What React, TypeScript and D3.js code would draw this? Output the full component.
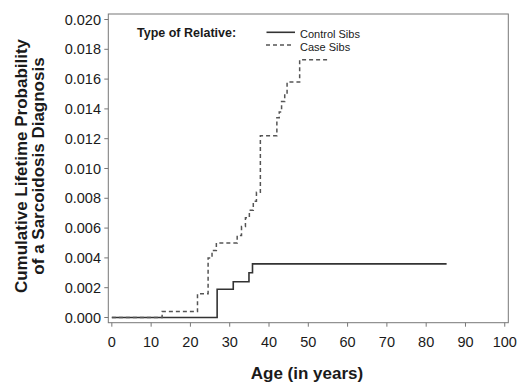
import React from "react";
import * as d3 from "d3";

const xTicks = [0, 10, 20, 30, 40, 50, 60, 70, 80, 90, 100];
const yTicks = [0, 0.002, 0.004, 0.006, 0.008, 0.01, 0.012, 0.014, 0.016, 0.018, 0.02];

const controlAges = [0, 26.8, 30.9, 34.9, 35.8, 85.2];
const controlProbs = [0, 0.0019, 0.0024, 0.003, 0.0036, 0.0036];

const caseAges = [0, 12.8, 21.8, 24.5, 25.5, 26.6, 31.9, 33, 34, 35, 36, 36.8, 37.8, 42.0, 42.6, 43.2, 44.0, 44.6, 47.8, 55.5];
const caseProbs = [0, 0.0004, 0.0016, 0.004, 0.0045, 0.005, 0.0055, 0.0061, 0.0067, 0.0072, 0.0078, 0.0084, 0.0122, 0.0134, 0.0138, 0.0145, 0.015, 0.0158, 0.0173, 0.0173];

const FONT = "'Liberation Sans', Arial, Helvetica, sans-serif";

export default function App() {
  const left = 108.3, right = 508.3, top = 14, bottom = 322.7;
  const x = d3.scaleLinear().domain([-0.9, 100.9]).range([left, right]);
  const y = d3.scaleLinear().domain([-0.00035, 0.02037]).range([bottom, top]);

  const line = d3
    .line<[number, number]>()
    .x((d) => x(d[0]))
    .y((d) => y(d[1]))
    .curve(d3.curveStepAfter);

  const control = controlAges.map((a, i) => [a, controlProbs[i]] as [number, number]);
  const cases = caseAges.map((a, i) => [a, caseProbs[i]] as [number, number]);

  return (
    <svg
      width={518}
      height={383}
      style={{ position: "absolute", left: 0, top: 0, background: "#fff" }}
      fontFamily={FONT}
    >
      <rect x={left} y={top} width={right - left} height={bottom - top} fill="none" stroke="#777" strokeWidth={1} />
      {yTicks.map((t) => (
        <g key={"y" + t}>
          <line x1={left - 4} x2={left} y1={y(t)} y2={y(t)} stroke="#777" />
          <text x={101} y={y(t)} dy="0.35em" textAnchor="end" fontSize={14.5} fill="#1a1a1a">
            {t.toFixed(3)}
          </text>
        </g>
      ))}
      {xTicks.map((t) => (
        <g key={"x" + t}>
          <line x1={x(t)} x2={x(t)} y1={bottom} y2={bottom + 4} stroke="#777" />
          <text x={x(t)} y={342} dy="0.35em" textAnchor="middle" fontSize={14.5} fill="#1a1a1a">
            {t}
          </text>
        </g>
      ))}
      <text x={307} y={373} dy="0.35em" textAnchor="middle" fontSize={17} fontWeight="bold" fill="#1a1a1a">
        Age (in years)
      </text>
      <g transform="translate(21,166) rotate(-90)">
        <text x={0} y={0} dy="0.35em" textAnchor="middle" fontSize={17} fontWeight="bold" fill="#1a1a1a">
          Cumulative Lifetime Probability
        </text>
        <text x={0} y={17.5} dy="0.35em" textAnchor="middle" fontSize={17} fontWeight="bold" fill="#1a1a1a">
          of a Sarcoidosis Diagnosis
        </text>
      </g>
      <path d={line(control) || ""} fill="none" stroke="#333" strokeWidth={1.6} />
      <path d={line(cases) || ""} fill="none" stroke="#555" strokeWidth={1.5} strokeDasharray="4,3" />
      <text x={137} y={33} dy="0.35em" fontSize={12.5} fontWeight="bold" fill="#1a1a1a">
        Type of Relative:
      </text>
      <line x1={266.5} x2={295} y1={32.3} y2={32.3} stroke="#333" strokeWidth={1.6} />
      <text x={300} y={34} dy="0.35em" fontSize={11} fill="#1a1a1a">
        Control Sibs
      </text>
      <line x1={266} x2={292} y1={45} y2={45} stroke="#555" strokeWidth={1.5} strokeDasharray="4,3" />
      <text x={300} y={47} dy="0.35em" fontSize={11} fill="#1a1a1a">
        Case Sibs
      </text>
    </svg>
  );
}
